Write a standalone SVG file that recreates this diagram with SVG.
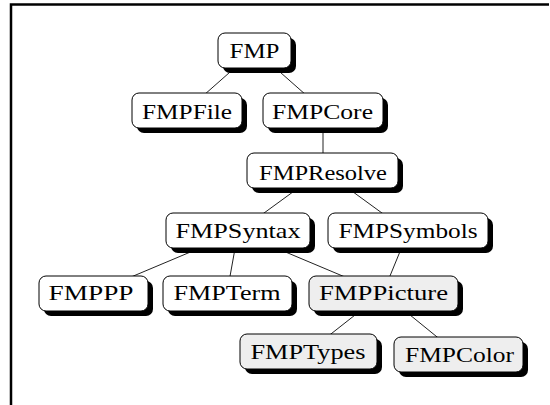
<svg xmlns="http://www.w3.org/2000/svg" width="550" height="405" viewBox="0 0 550 405">
  <style>
    .frame { stroke: #000; stroke-width: 2.5; fill: none; }
    .edge { stroke: #222; stroke-width: 1; fill: none; }
    .shadow { fill: #000; }
    .box { stroke: #000; stroke-width: 1; fill: #fff; }
    .box.hl { fill: #eeeeee; }
    .label { font-family: "Liberation Serif", "DejaVu Serif", serif; font-size: 22px; fill: #000; text-anchor: middle; }
  </style>

  <!-- page frame (top and left rules) -->
  <path class="frame" d="M11 405 V4.5 H549"/>

  <!-- connectors: drawn centre to centre, boxes paint over the ends -->
  <g id="connectors">
    <line class="edge" x1="255" y1="50" x2="187" y2="110"/>
    <line class="edge" x1="255" y1="50" x2="323" y2="110"/>
    <line class="edge" x1="323" y1="110" x2="323" y2="170"/>
    <line class="edge" x1="323" y1="170" x2="238" y2="232"/>
    <line class="edge" x1="323" y1="170" x2="408" y2="232"/>
    <line class="edge" x1="238" y1="232" x2="93" y2="293"/>
    <line class="edge" x1="238" y1="232" x2="227" y2="293"/>
    <line class="edge" x1="238" y1="232" x2="383" y2="293"/>
    <line class="edge" x1="408" y1="232" x2="383" y2="293"/>
    <line class="edge" x1="383" y1="293" x2="308" y2="352"/>
    <line class="edge" x1="383" y1="293" x2="458" y2="354"/>
  </g>

  <g id="FMP">
    <rect class="shadow" x="223" y="38" width="73" height="35" rx="7"/>
    <rect class="box" x="218" y="33" width="73" height="35" rx="7"/>
    <text class="label" x="254.5" y="58" textLength="50" lengthAdjust="spacingAndGlyphs">FMP</text>
  </g>
  <g id="FMPFile">
    <rect class="shadow" x="137" y="98" width="110" height="35" rx="7"/>
    <rect class="box" x="132" y="93" width="110" height="35" rx="7"/>
    <text class="label" x="187" y="119" textLength="90" lengthAdjust="spacingAndGlyphs">FMPFile</text>
  </g>
  <g id="FMPCore">
    <rect class="shadow" x="268" y="98" width="120" height="35" rx="7"/>
    <rect class="box" x="263" y="93" width="120" height="35" rx="7"/>
    <text class="label" x="322.5" y="119" textLength="101" lengthAdjust="spacingAndGlyphs">FMPCore</text>
  </g>
  <g id="FMPResolve">
    <rect class="shadow" x="252" y="158" width="151" height="35" rx="7"/>
    <rect class="box" x="247" y="153" width="151" height="35" rx="7"/>
    <text class="label" x="323" y="180" textLength="128" lengthAdjust="spacingAndGlyphs">FMPResolve</text>
  </g>
  <g id="FMPSyntax">
    <rect class="shadow" x="171" y="218" width="144" height="35" rx="7"/>
    <rect class="box" x="166" y="213" width="144" height="35" rx="7"/>
    <text class="label" x="238" y="238" textLength="125" lengthAdjust="spacingAndGlyphs">FMPSyntax</text>
  </g>
  <g id="FMPSymbols">
    <rect class="shadow" x="333" y="218" width="160" height="35" rx="7"/>
    <rect class="box" x="328" y="213" width="160" height="35" rx="7"/>
    <text class="label" x="408" y="238" textLength="139" lengthAdjust="spacingAndGlyphs">FMPSymbols</text>
  </g>
  <g id="FMPPP">
    <rect class="shadow" x="44" y="281" width="109" height="35" rx="7"/>
    <rect class="box" x="39" y="276" width="109" height="35" rx="7"/>
    <text class="label" x="91" y="300" textLength="85" lengthAdjust="spacingAndGlyphs">FMPPP</text>
  </g>
  <g id="FMPTerm">
    <rect class="shadow" x="168" y="281" width="129" height="35" rx="7"/>
    <rect class="box" x="163" y="276" width="129" height="35" rx="7"/>
    <text class="label" x="227" y="300" textLength="107" lengthAdjust="spacingAndGlyphs">FMPTerm</text>
  </g>
  <g id="FMPPicture">
    <rect class="shadow" x="314" y="281" width="149" height="35" rx="7"/>
    <rect class="box hl" x="309" y="276" width="149" height="35" rx="7"/>
    <text class="label" x="383.5" y="300" textLength="129" lengthAdjust="spacingAndGlyphs">FMPPicture</text>
  </g>
  <g id="FMPTypes">
    <rect class="shadow" x="245" y="339" width="137" height="35" rx="7"/>
    <rect class="box hl" x="240" y="334" width="137" height="35" rx="7"/>
    <text class="label" x="308" y="359" textLength="115" lengthAdjust="spacingAndGlyphs">FMPTypes</text>
  </g>
  <g id="FMPColor">
    <rect class="shadow" x="399" y="342" width="129" height="35" rx="7"/>
    <rect class="box hl" x="394" y="337" width="129" height="35" rx="7"/>
    <text class="label" x="459.5" y="362" textLength="109" lengthAdjust="spacingAndGlyphs">FMPColor</text>
  </g>
</svg>
